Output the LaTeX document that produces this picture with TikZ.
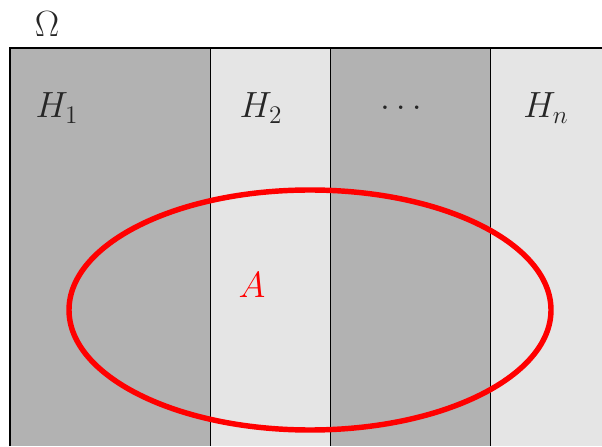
\documentclass[tikz,border=0pt]{standalone}
\begin{document}
\begin{tikzpicture}[label/.style={font=\huge,text=black!85}]
  \useasboundingbox (0,0) rectangle (12.04,8.92);
  \fill[black!30] (0.2,0) rectangle (4.2,7.96);
  \fill[black!10] (4.2,0) rectangle (6.6,7.96);
  \fill[black!30] (6.6,0) rectangle (9.8,7.96);
  \fill[black!10] (9.8,0) rectangle (12.04,7.96);
  \draw[thin] (4.2,0) -- (4.2,7.96);
  \draw[thin] (6.6,0) -- (6.6,7.96);
  \draw[thin] (9.8,0) -- (9.8,7.96);
  \draw[line width=1.1pt] (0.2,0) -- (0.2,7.96) -- (12.04,7.96);
  \node[label] (omega) at (0.94,8.44) {$\Omega$};
  \node[label] (h1) at (1.14,6.76) {$H_1$};
  \node[label] (h2) at (5.22,6.76) {$H_2$};
  \node[label] (dots) at (8.02,6.76) {$\dots$};
  \node[label] (hn) at (10.92,6.76) {$H_n$};
  \draw[red,line width=3.1pt] (6.2,2.72) ellipse (4.82 and 2.4);
  \node[label,text=red] (a) at (5.04,3.22) {$A$};
\end{tikzpicture}
\end{document}
